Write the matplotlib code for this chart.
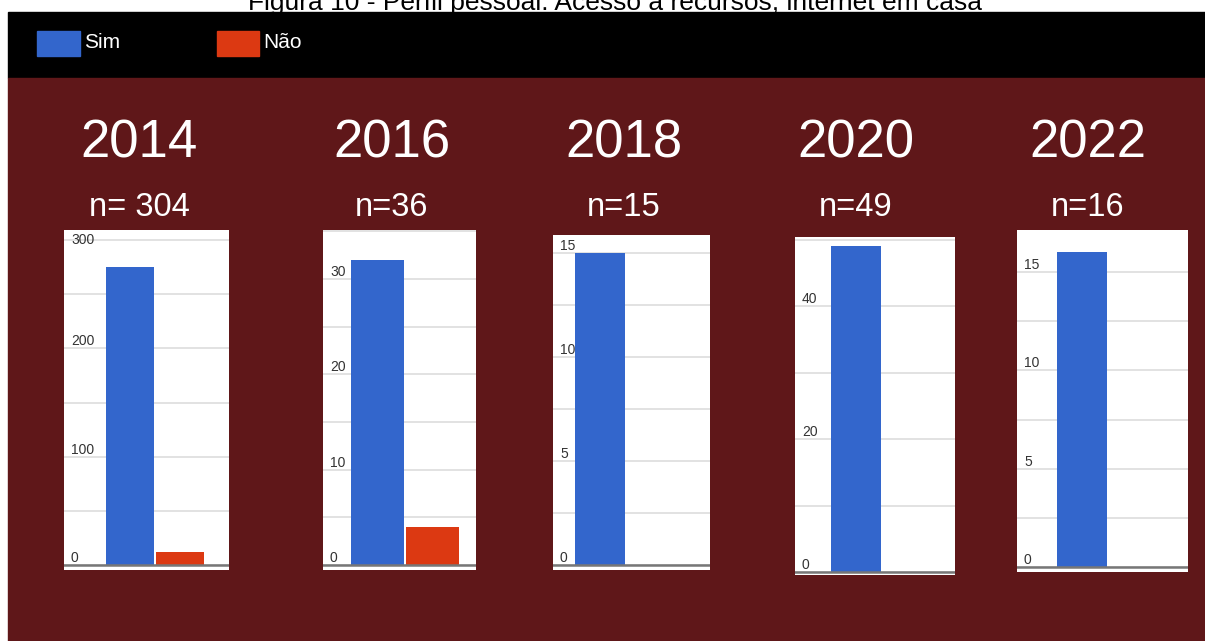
"""
Figura 10 - acesso a internet em casa, por ano (Sim / Não)
"""
import matplotlib
matplotlib.use('Agg')
import matplotlib.pyplot as plt
from matplotlib.patches import Rectangle
from matplotlib.ticker import MultipleLocator

# Dados
anos = ['2014', '2016', '2018', '2020', '2022']
n_labels = ['n= 304', 'n=36', 'n=15', 'n=49', 'n=16']
sim = [275, 32, 15, 49, 16]
nao = [12, 4, 0, 0, 0]
categorias = ['Sim', 'Não']
rotulos_y = [[0, 100, 200, 300], [0, 10, 20, 30], [0, 5, 10, 15],
             [0, 20, 40], [0, 5, 10, 15]]
grade_menor = [50, 5, 2.5, 10, 2.5]

titulo = 'Figura 10 - Perfil pessoal: Acesso a recursos, internet em casa'

AZUL = '#3366cc'
VERMELHO = '#dc3912'
FUNDO = '#5f1719'

W, H = 1205, 641
plt.rcParams['font.family'] = ['Liberation Sans', 'DejaVu Sans']

fig = plt.figure(figsize=(W / 100, H / 100), dpi=100)
fig.patch.set_facecolor('white')


def fx(x):
    return x / W


def fy(y):
    return 1 - y / H


# fundos (faixa preta + painel vermelho escuro), atrás dos eixos
fig.patches.append(Rectangle((fx(8), fy(78)), fx(W - 8), 66 / H,
                             transform=fig.transFigure, color='black', zorder=-2))
fig.patches.append(Rectangle((fx(8), 0), fx(W - 8), fy(78),
                             transform=fig.transFigure, color=FUNDO, zorder=-2))

# título (cortado no topo, como no original)
fig.text(fx(615), fy(10), titulo, ha='center', va='baseline',
         fontsize=19, color='black')

# legenda
for x0, cor, txt, w in [(37, AZUL, categorias[0], 43), (217, VERMELHO, categorias[1], 42)]:
    fig.patches.append(Rectangle((fx(x0), fy(56)), fx(w), 25 / H,
                                 transform=fig.transFigure, color=cor, zorder=1))
    fig.text(fx(x0 + w + 4), fy(43), txt, ha='left', va='center',
             fontsize=15, color='white')

# posição dos painéis em pixels: (esq, topo, dir, base)
caixas = [(64, 230, 229, 570), (323, 230, 476, 570), (553, 235, 710, 570),
          (795, 237, 955, 575), (1017, 230, 1188, 572)]
zero_px = [565, 565, 565, 572, 567]
ref_px = [(300, 240), (30, 279), (15, 252.7), (40, 306), (15, 272)]
centro_sim = [130, 377.5, 600, 855.7, 1081.7]
passo = [49.5, 55, 52, 51.5, 52]
larg_barra = [48, 53, 50, 50, 50]
centro_txt = [139, 392, 624, 856, 1088]

for i in range(len(anos)):
    esq, topo, dire, base = caixas[i]
    ax = fig.add_axes([fx(esq), fy(base), fx(dire - esq), (base - topo) / H])
    ax.set_facecolor('white')

    val_ref, y_ref = ref_px[i]
    u = val_ref / (zero_px[i] - y_ref)
    ax.set_ylim(-(base - zero_px[i]) * u, (zero_px[i] - topo) * u)
    ax.set_xlim(-(centro_sim[i] - esq) / passo[i], (dire - centro_sim[i]) / passo[i])

    ax.bar([0, 1], [sim[i], nao[i]], width=larg_barra[i] / passo[i],
           color=[AZUL, VERMELHO], zorder=3)

    ax.yaxis.set_minor_locator(MultipleLocator(grade_menor[i]))
    ax.set_yticks(rotulos_y[i])
    ax.grid(True, which='both', axis='y', color='#dddddd', linewidth=1.2, zorder=1)
    ax.axhline(0, color='#777777', linewidth=1.8, zorder=4)
    ax.tick_params(axis='y', which='both', length=0, pad=-5, labelsize=10,
                   labelcolor='#333333')
    for v, lab in zip(rotulos_y[i], ax.get_yticklabels()):
        lab.set_horizontalalignment('left')
        # rótulo colado no topo da caixa fica centrado na linha
        if (zero_px[i] - topo) - v / u < 14:
            lab.set_verticalalignment('center')
        else:
            lab.set_verticalalignment('bottom')
    ax.set_xticks([])
    for s in ax.spines.values():
        s.set_visible(False)

    fig.text(fx(centro_txt[i]), fy(158), anos[i], ha='center', va='baseline',
             fontsize=38, color='white')
    fig.text(fx(centro_txt[i]), fy(216), n_labels[i], ha='center', va='baseline',
             fontsize=23.5, color='white')

fig.savefig('out.png', dpi=100, facecolor=fig.get_facecolor())
